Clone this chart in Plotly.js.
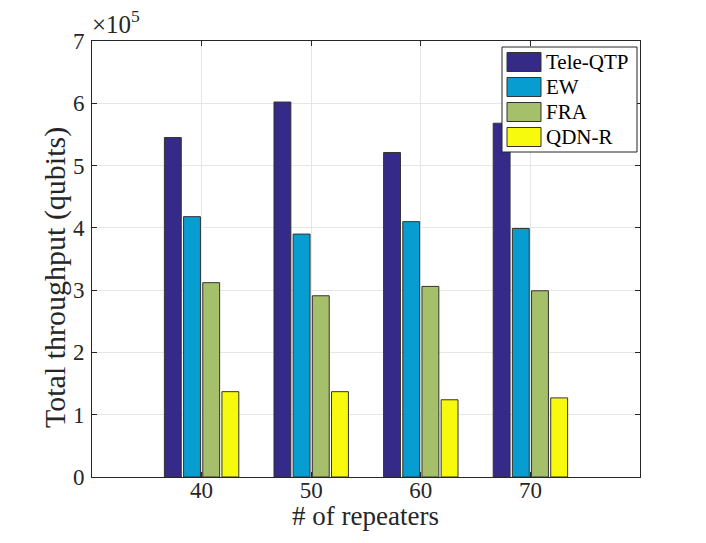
<!DOCTYPE html>
<html>
<head>
<meta charset="utf-8">
<script src="https://cdn.plot.ly/plotly-3.0.1.min.js"></script>
<style>
  body { margin: 0; background: #fff; }
  #chart { width: 706px; height: 543px; }
</style>
</head>
<body>
<div id="chart"></div>
<script>
// number of repeaters
const repeaters = [40, 50, 60, 70];

// total throughput, in units of 1e5 qubits
const teleQtp = [5.45, 6.02, 5.21, 5.68];
const ew = [4.18, 3.90, 4.10, 3.99];
const fra = [3.12, 2.91, 3.06, 2.99];
const qdnR = [1.37, 1.37, 1.24, 1.27];

const seriesNames = ["Tele-QTP", "EW", "FRA", "QDN-R"];
const seriesColors = ["#352a87", "#079dd0", "#a6bf6a", "#f8fa0d"];
const yTicks = [0, 1, 2, 3, 4, 5, 6, 7];

const serif = "Liberation Serif";
const axisColor = "#262626";
const W = 706, H = 543;
const M = {l: 92, r: 66, t: 41, b: 66};

// pixel -> paper fraction helpers (legend box, axis labels)
const px = (x) => (x - M.l) / (W - M.l - M.r);
const py = (y) => (H - M.b - y) / (H - M.t - M.b);

const makeBar = (name, values, color) => ({
    type: "bar",
    name: name,
    x: repeaters,
    y: values,
    showlegend: false,
    marker: {color: color, line: {color: "#333333", width: 1}}
});

const data = [
    makeBar(seriesNames[0], teleQtp, seriesColors[0]),
    makeBar(seriesNames[1], ew, seriesColors[1]),
    makeBar(seriesNames[2], fra, seriesColors[2]),
    makeBar(seriesNames[3], qdnR, seriesColors[3])
];

// MATLAB-like legend with wide swatches
const shapes = [{
    type: "rect", xref: "paper", yref: "paper",
    x0: px(502), x1: px(637), y0: py(152), y1: py(47),
    fillcolor: "#ffffff", line: {color: "#262626", width: 1}
}];
const annotations = [];
seriesNames.forEach((name, i) => {
    const cy = 62 + i * 25;
    shapes.push({
        type: "rect", xref: "paper", yref: "paper",
        x0: px(507), x1: px(541), y0: py(cy + 9.5), y1: py(cy - 9.5),
        fillcolor: seriesColors[i], line: {color: "#333333", width: 1}
    });
    annotations.push({
        xref: "paper", yref: "paper",
        x: px(544), y: py(cy),
        xanchor: "left", yanchor: "middle",
        showarrow: false,
        text: name,
        font: {family: serif, size: 21, color: "#000000"}
    });
});

// exponent label
annotations.push({
    xref: "paper", yref: "paper",
    x: 0, y: 1,
    xanchor: "left", yanchor: "bottom",
    xshift: -2, yshift: 1,
    showarrow: false,
    text: "×10<sup>5</sup>",
    font: {family: serif, size: 25, color: axisColor}
});

// y axis label (sits a bit below the axis centre, as in the figure)
annotations.push({
    xref: "paper", yref: "paper",
    x: px(55), y: py(278),
    xanchor: "center", yanchor: "middle",
    textangle: -90,
    showarrow: false,
    text: "Total throughput (qubits)",
    font: {family: serif, size: 30, color: axisColor}
});

// x axis label
annotations.push({
    xref: "paper", yref: "paper",
    x: px(365), y: py(516),
    xanchor: "center", yanchor: "middle",
    showarrow: false,
    text: "# of repeaters",
    font: {family: serif, size: 27, color: axisColor}
});

const layout = {
    width: W,
    height: H,
    margin: M,
    paper_bgcolor: "#ffffff",
    plot_bgcolor: "#ffffff",
    barmode: "group",
    bargap: 0.3,
    bargroupgap: 0.12,
    showlegend: false,
    font: {family: serif, color: axisColor},
    xaxis: {
        range: [30, 80],
        tickvals: repeaters,
        ticktext: repeaters.map(String),
        ticks: "inside",
        ticklen: 5,
        tickcolor: axisColor,
        showline: true,
        linecolor: axisColor,
        linewidth: 1,
        mirror: "ticks",
        showgrid: true,
        gridcolor: "#e6e6e6",
        zeroline: false,
        ticklabelstandoff: -8,
        tickfont: {family: serif, size: 23, color: axisColor}
    },
    yaxis: {
        range: [0, 7],
        tickvals: yTicks,
        ticktext: yTicks.map(String),
        ticks: "inside",
        ticklen: 5,
        tickcolor: axisColor,
        showline: true,
        linecolor: axisColor,
        linewidth: 1,
        mirror: "ticks",
        showgrid: true,
        gridcolor: "#e6e6e6",
        zeroline: false,
        ticklabelstandoff: 2,
        tickfont: {family: serif, size: 23, color: axisColor}
    },
    shapes: shapes,
    annotations: annotations
};

Plotly.newPlot("chart", data, layout, {displayModeBar: false, staticPlot: true});
</script>
</body>
</html>
